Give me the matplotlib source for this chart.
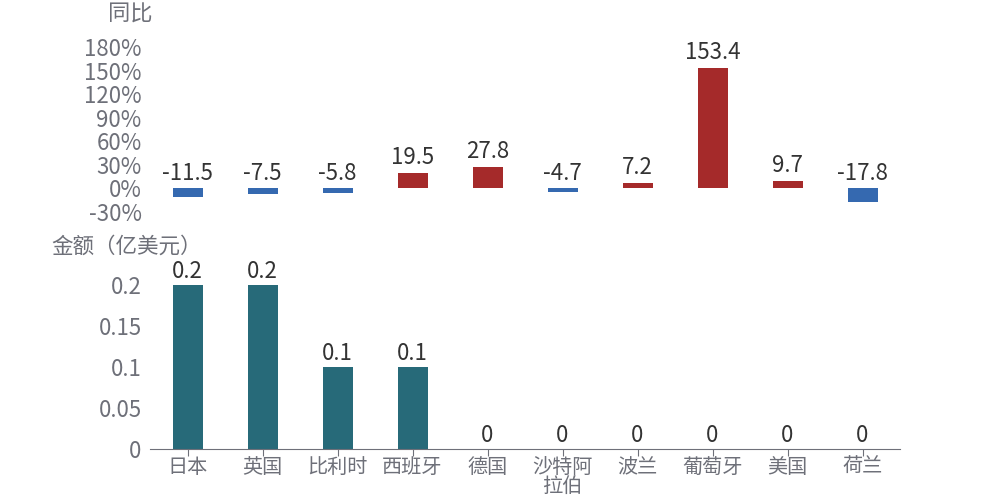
import matplotlib.pyplot as plt

plt.rcParams["font.family"] = ["Noto Sans CJK SC", "DejaVu Sans"]
plt.rcParams["axes.unicode_minus"] = False

countries = ["日本", "英国", "比利时", "西班牙", "德国", "沙特阿\n拉伯", "波兰", "葡萄牙", "美国", "荷兰"]
yoy = [-11.5, -7.5, -5.8, 19.5, 27.8, -4.7, 7.2, 153.4, 9.7, -17.8]
amount = [0.2, 0.2, 0.1, 0.1, 0, 0, 0, 0, 0, 0]
yoy_ticks = [-30, 0, 30, 60, 90, 120, 150, 180]
amount_ticks = [0, 0.05, 0.1, 0.15, 0.2]

RED = "#a52a2a"
BLUE = "#3569b0"
TEAL = "#276a79"
GRAY = "#6e7079"
DARK = "#333333"

fig = plt.figure(figsize=(10, 5), dpi=100)
ax1 = fig.add_axes([0.15, 0.576, 0.75, 0.33])
ax2 = fig.add_axes([0.15, 0.102, 0.75, 0.328])

x = list(range(len(countries)))

# top: year-on-year
colors = [RED if v >= 0 else BLUE for v in yoy]
ax1.bar(x, yoy, width=0.4, color=colors)
for xi, v in zip(x, yoy):
    ax1.text(xi, max(v, 0) + 5, f"{v:g}", ha="center", va="bottom", fontsize=16, color=DARK)
ax1.set_xlim(-0.5, len(countries) - 0.5)
ax1.set_ylim(-30, 180)
ax1.set_yticks(yoy_ticks)
ax1.set_yticklabels([f"{t}%" for t in yoy_ticks])
ax1.tick_params(axis="y", length=0, labelsize=16, labelcolor=GRAY, pad=6)
ax1.set_xticks([])
for s in ax1.spines.values():
    s.set_visible(False)
fig.text(0.13, 0.972, "同比", ha="center", va="center", fontsize=16, color=GRAY)

# bottom: amount
ax2.bar(x, amount, width=0.4, color=TEAL)
for xi, v in zip(x, amount):
    ax2.text(xi, v + 0.003, f"{v:g}", ha="center", va="bottom", fontsize=16, color=DARK)
ax2.set_xlim(-0.5, len(countries) - 0.5)
ax2.set_ylim(0, 0.2)
ax2.set_yticks(amount_ticks)
ax2.set_yticklabels([f"{t:g}" for t in amount_ticks])
ax2.tick_params(axis="y", length=0, labelsize=16, labelcolor=GRAY, pad=6)
ax2.set_xticks(x)
ax2.set_xticklabels(countries, linespacing=0.9)
ax2.tick_params(axis="x", length=5, color=GRAY, labelsize=14.5, labelcolor=GRAY, pad=1)
for name in ["top", "right", "left"]:
    ax2.spines[name].set_visible(False)
ax2.spines["bottom"].set_color(GRAY)
fig.text(0.1265, 0.506, "金额（亿美元）", ha="center", va="center", fontsize=15.5, color=GRAY)

fig.savefig("out.png", dpi=100)
